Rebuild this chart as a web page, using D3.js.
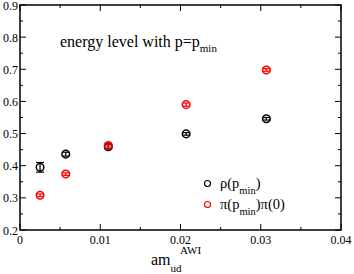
<!DOCTYPE html>
<html>
<head>
<meta charset="utf-8">
<script src="https://cdn.jsdelivr.net/npm/d3@7"></script>
<style>
body { margin: 0; background: #fff; }
</style>
</head>
<body>
<div id="chart"></div>
<script>
// values
var mass = [0.0025, 0.0057, 0.011, 0.0207, 0.0307];
var rho = [0.395, 0.436, 0.459, 0.499, 0.546];
var rhoErr = [0.015, 0.006, 0.006, 0.004, 0.004];
var pipi = [0.308, 0.374, 0.463, 0.590, 0.698];
var pipiErr = [0.004, 0.004, 0.005, 0.005, 0.004];
var xTicks = [0, 0.01, 0.02, 0.03, 0.04];
var yTicks = [0.2, 0.3, 0.4, 0.5, 0.6, 0.7, 0.8, 0.9];

var W = 354, H = 274;
var mLeft = 20, mRight = 341, mTop = 5, mBottom = 230;

var svg = d3.select("#chart").append("svg")
    .attr("width", W).attr("height", H)
    .attr("font-family", "'Liberation Serif', 'Times New Roman', Times, serif");

var x = d3.scaleLinear().domain([0, 0.04]).range([mLeft, mRight]);
var y = d3.scaleLinear().domain([0.2, 0.9]).range([mBottom, mTop]);

var xMinor = d3.range(0, 0.0401, 0.005);
var yMinor = d3.range(0.2, 0.901, 0.05);

// frame
svg.append("rect")
    .attr("x", mLeft).attr("y", mTop)
    .attr("width", mRight - mLeft).attr("height", mBottom - mTop)
    .attr("fill", "none").attr("stroke", "#000").attr("stroke-width", 1.5);

var g = svg.append("g").attr("stroke", "#000").attr("stroke-width", 1);
// ticks on all four sides, pointing in
xMinor.forEach(function(v){
    var major = Math.abs(v / 0.01 - Math.round(v / 0.01)) < 1e-6;
    var len = major ? 6 : 3;
    g.append("line").attr("x1", x(v)).attr("x2", x(v)).attr("y1", mBottom).attr("y2", mBottom - len);
    g.append("line").attr("x1", x(v)).attr("x2", x(v)).attr("y1", mTop).attr("y2", mTop + len);
});
yMinor.forEach(function(v){
    var major = Math.abs(v / 0.1 - Math.round(v / 0.1)) < 1e-6;
    var len = major ? 6 : 3;
    g.append("line").attr("y1", y(v)).attr("y2", y(v)).attr("x1", mLeft).attr("x2", mLeft + len);
    g.append("line").attr("y1", y(v)).attr("y2", y(v)).attr("x1", mRight).attr("x2", mRight - len);
});

svg.selectAll(".xl").data(xTicks).enter().append("text")
    .attr("x", function(d){ return x(d); })
    .attr("y", mBottom + 14)
    .attr("text-anchor", "middle")
    .attr("font-size", 12)
    .text(function(d){ return d; });

svg.selectAll(".yl").data(yTicks).enter().append("text")
    .attr("x", mLeft - 2)
    .attr("y", function(d){ return y(d) + 4.5; })
    .attr("text-anchor", "end")
    .attr("font-size", 12)
    .text(function(d){ return d.toFixed(1); });

// axis label
var xl = svg.append("text").attr("x", 151).attr("y", 265).attr("font-size", 16);
xl.append("tspan").text("am");
xl.append("tspan").attr("font-size", 11).attr("dy", 7).text("ud");
xl.append("tspan").attr("font-size", 11).attr("x", 180).attr("y", 254).text("AWI");

// title
var t = svg.append("text").attr("x", 60).attr("y", 47).attr("font-size", 16);
t.append("tspan").text("energy level with p=p");
t.append("tspan").attr("font-size", 11).attr("dy", 5).text("min");

function series(vals, errs, color){
    var gs = svg.append("g").attr("stroke", color).attr("fill", "none").attr("stroke-width", 1.2);
    mass.forEach(function(m, i){
        var cx = x(m);
        var y0 = y(vals[i] - errs[i]), y1 = y(vals[i] + errs[i]);
        gs.append("line").attr("x1", cx).attr("x2", cx).attr("y1", y0).attr("y2", y1);
        gs.append("line").attr("x1", cx - 4).attr("x2", cx + 4).attr("y1", y0).attr("y2", y0);
        gs.append("line").attr("x1", cx - 4).attr("x2", cx + 4).attr("y1", y1).attr("y2", y1);
        gs.append("circle").attr("cx", cx).attr("cy", y(vals[i])).attr("r", 3.8).attr("stroke-width", 1.5);
    });
}
series(rho, rhoErr, "#000");
series(pipi, pipiErr, "#ff0000");

// legend
function legendEntry(yy, color, before, after){
    svg.append("circle").attr("cx", 207.5).attr("cy", yy - 4.5).attr("r", 3)
        .attr("fill", "none").attr("stroke", color).attr("stroke-width", 1.2);
    var tx = svg.append("text").attr("x", 220).attr("y", yy).attr("font-size", 14.5);
    tx.append("tspan").text(before);
    tx.append("tspan").attr("font-size", 10.5).attr("dy", 6).text("min");
    tx.append("tspan").attr("dy", -6).text(after);
}
legendEntry(188, "#000", "ρ(p", ")");
legendEntry(209, "#ff0000", "π(p", ")π(0)");
</script>
</body>
</html>
